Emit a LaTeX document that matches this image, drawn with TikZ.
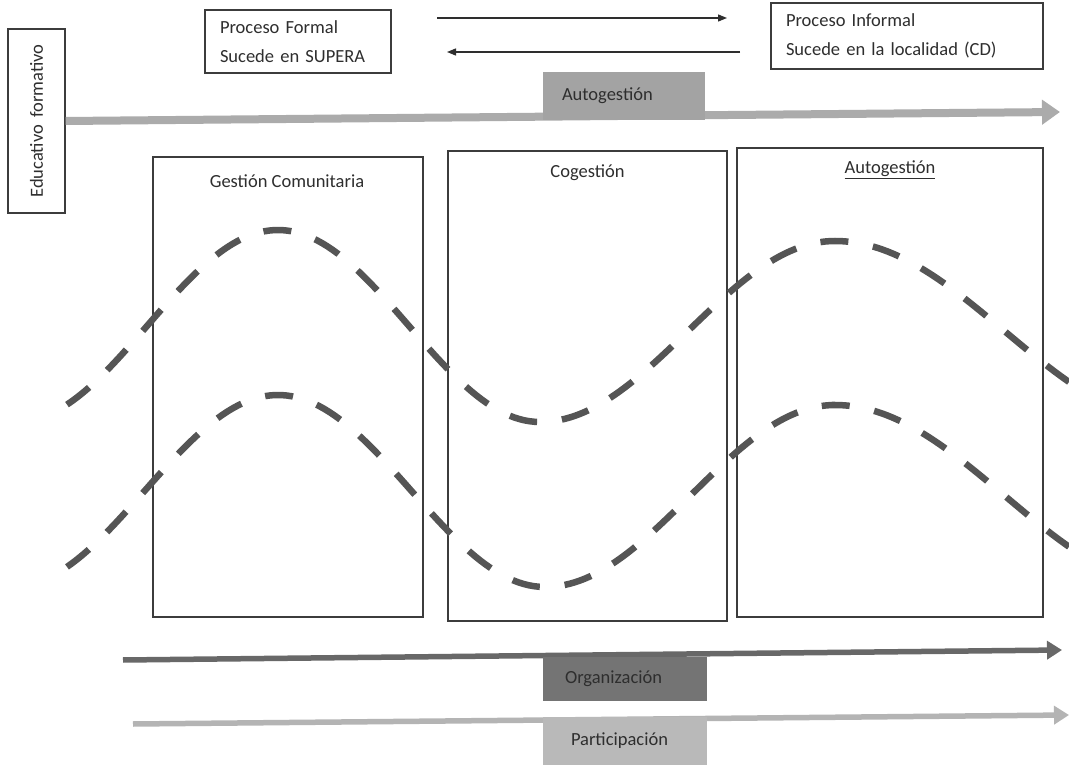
\documentclass[tikz,border=0pt]{standalone}
\usepackage{fontspec}
\setmainfont{Carlito}
\usetikzlibrary{arrows.meta}
\definecolor{inkc}{HTML}{2E2E2E}
\definecolor{framec}{HTML}{3C3C3C}
\definecolor{topbar}{HTML}{ABABAB}
\definecolor{topbox}{HTML}{A3A3A3}
\definecolor{orgbar}{HTML}{686868}
\definecolor{orgbox}{HTML}{747474}
\definecolor{parbar}{HTML}{B4B4B4}
\definecolor{parbox}{HTML}{B9B9B9}
\definecolor{wavec}{HTML}{555555}
\newcommand{\lowertext}[2]{\raisebox{-#1}{#2}}
\begin{document}
\begin{tikzpicture}[x=1pt,y=-1pt,
  font=\fontsize{18.5}{28.5}\selectfont,
  frame/.style={draw=framec,line width=1.1pt,fill=white,inner sep=0pt},
  textbox/.style={frame,align=left,inner xsep=15pt,text=inkc},
  bigbox/.style={draw=framec,line width=1.1pt,inner sep=0pt},
  title/.style={text=inkc,inner sep=0pt},
  graybox/.style={inner ysep=0pt,align=left,text=inkc},
  wave/.style={draw=wavec,line width=6.5pt,dash pattern=on 28pt off 25pt},
  thinarrow/.style={draw=inkc,line width=1.3pt,-{Triangle[length=9pt,width=7pt]}},
  bigarrow/.style={line width=8pt,-{Triangle[length=18pt,width=24pt]}},
  midarrow/.style={line width=5.5pt,-{Triangle[length=15pt,width=18pt]}}]
\useasboundingbox[fill=white] (0,0) rectangle (1069,767);

% big boxes
\node[bigbox,minimum width=270pt,minimum height=460pt] (gc) at (288,387) {};
\node[bigbox,minimum width=279pt,minimum height=470pt] (cg) at (587.5,386) {};
\node[bigbox,minimum width=306pt,minimum height=469pt] (ag) at (890,382.5) {};
\node[title] (tgc) at (287,181) {Gestión Comunitaria};
\node[title] (tcg) at (587.5,173) {Cogestión};
\node[title] (tag) at (890,170) {\underline{Autogestión}};

% waves
\draw[wave] plot[domain=67:540,samples=90] (\x,{326-96*cos((\x-278)/262*180)})
  -- plot[domain=540:835,samples=60] (\x,{331.5+90.5*cos((\x-540)/295*180)})
  -- plot[domain=835:1069,samples=50] (\x,{331.5-90.5*cos((\x-835)/340*180)});
\draw[wave] plot[domain=67:545,samples=90] (\x,{491-96*cos((\x-278)/267*180)})
  -- plot[domain=545:835,samples=60] (\x,{496+91*cos((\x-545)/290*180)})
  -- plot[domain=835:1069,samples=50] (\x,{496-91*cos((\x-835)/340*180)});

% left label box
\node[frame,rotate=90,minimum width=184pt,minimum height=57pt,text=inkc] (edu) at (36.5,121) {Educativo\, formativo};

% top boxes
\node[textbox,text width=156pt,minimum height=63pt] (formal) at (298,41.5) {\lowertext{3pt}{Proceso Formal}\\\lowertext{3pt}{Sucede en SUPERA}};
\node[textbox,text width=242pt,minimum height=66pt] (informal) at (907,36) {\lowertext{3pt}{Proceso Informal}\\\lowertext{3pt}{Sucede en la localidad (CD)}};

\coordinate (r1) at (437,18);
\coordinate (r2) at (727,18);
\coordinate (l1) at (740,52);
\coordinate (l2) at (447,52);
\draw[thinarrow] (r1) -- (r2);
\draw[thinarrow] (l1) -- (l2);

% top thick arrow
\coordinate (ta2) at (1060,112);
\draw[bigarrow,draw=topbar,fill=topbar] (edu.south) -- (ta2);
\node[graybox,fill=topbox,text width=124pt,inner xsep=19pt,minimum height=48pt] (autog) at (624,96) {\lowertext{5pt}{Autogestión}};

% bottom arrows
\coordinate (oa1) at (123,660);
\coordinate (oa2) at (1062,650);
\draw[midarrow,draw=orgbar,fill=orgbar] (oa1) -- (oa2);
\node[graybox,fill=orgbox,text width=120pt,inner xsep=22pt,minimum height=44pt] (org) at (625,679) {\lowertext{3pt}{Organización}};

\coordinate (pa1) at (133,724);
\coordinate (pa2) at (1069,715);
\draw[midarrow,draw=parbar,fill=parbar] (pa1) -- (pa2);
\node[graybox,fill=parbox,text width=136pt,inner xsep=14pt,minimum height=48pt] (par) at (625,741) {\hspace*{14pt}\lowertext{3pt}{Participación}};
\end{tikzpicture}
\end{document}
